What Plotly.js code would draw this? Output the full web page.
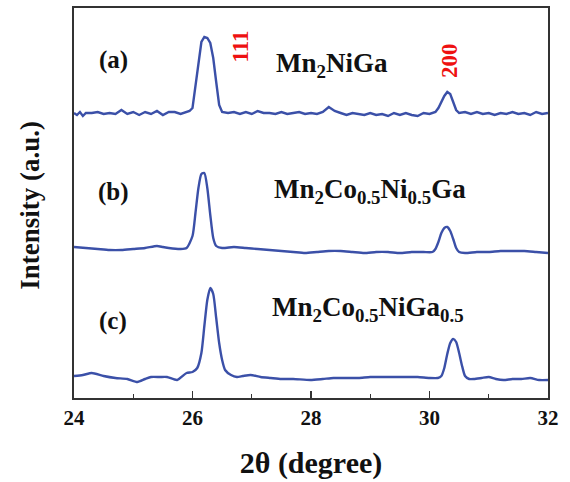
<!DOCTYPE html>
<html>
<head>
<meta charset="utf-8">
<script src="https://cdn.plot.ly/plotly-3.0.1.min.js"></script>
<style>html,body{margin:0;padding:0;background:#fff;}#chart{width:570px;height:482px;}</style>
</head>
<body>
<div id="chart"></div>
<script>
// 2θ (degree) and offset intensities (a.u.)
const xA = [24.0,24.05,24.1,24.15,24.2,24.3,24.4,24.5,24.6,24.7,24.8,24.9,25.0,25.1,25.2,25.3,25.4,25.5,25.6,25.7,25.8,25.9,25.95,26.0,26.05,26.1,26.15,26.2,26.25,26.3,26.35,26.4,26.45,26.5,26.6,26.7,26.8,26.9,27.0,27.1,27.2,27.3,27.4,27.5,27.6,27.7,27.8,27.9,28.0,28.1,28.2,28.3,28.4,28.5,28.6,28.7,28.8,28.9,29.0,29.1,29.2,29.3,29.4,29.5,29.6,29.7,29.8,29.9,30.0,30.1,30.15,30.2,30.25,30.3,30.35,30.4,30.45,30.5,30.6,30.7,30.8,30.9,31.0,31.1,31.2,31.3,31.4,31.5,31.6,31.7,31.8,31.9,32.0];
const yA = [285,283,286,282,285,285,286,284,285,284,288,284,286,283,286,284,287,283,286,286,284,286,287,290,312,338,356,361,360,355,340,316,293,286,285,286,284,286,284,287,285,285,284,286,284,285,286,284,285,284,286,291,287,285,283,285,284,283,285,283,284,282,285,283,285,283,282,285,284,286,290,296,302,306,304,296,288,285,286,284,286,284,285,283,285,284,286,284,285,283,286,284,285];

const xB = [24.0,24.2,24.4,24.6,24.8,25.0,25.2,25.4,25.5,25.6,25.8,25.9,26.0,26.05,26.1,26.15,26.2,26.25,26.3,26.35,26.4,26.5,26.7,26.9,27.1,27.3,27.5,27.7,27.9,28.1,28.3,28.5,28.7,28.9,29.1,29.3,29.5,29.7,29.9,30.05,30.1,30.15,30.2,30.25,30.3,30.35,30.4,30.45,30.5,30.6,30.8,31.0,31.2,31.4,31.6,31.8,32.0];
const yB = [151,150,149,148,148,149,150,152,151,150,149,150,162,185,210,224,225,210,183,160,152,150,151,150,149,148,147,146,145,146,147,147,146,145,146,146,145,146,146,146,149,156,165,170,171,167,159,150,146,145,146,146,147,147,147,146,145];

const xC = [24.0,24.15,24.3,24.5,24.7,24.9,25.07,25.2,25.3,25.45,25.57,25.74,25.9,26.0,26.08,26.15,26.2,26.25,26.3,26.35,26.4,26.45,26.5,26.55,26.65,26.75,26.85,26.98,27.15,27.32,27.5,27.7,27.99,28.2,28.38,28.6,28.8,29.0,29.2,29.4,29.6,29.8,30.0,30.14,30.2,30.25,30.3,30.35,30.4,30.45,30.5,30.55,30.6,30.67,30.75,30.88,31.0,31.12,31.25,31.4,31.55,31.7,31.85,32.0];
const yC = [22,23,25,22,20,19,16,19,21,21,21,18,25,26,30,45,72,98,110,104,80,55,38,28,23,21,22,23,21,20,19,19,18,19,20,20,20,21,21,21,21,21,20,20,22,30,44,55,59,56,45,32,22,19,19,20,21,19,18,19,19,20,18,18];

const tickVals = [24,26,28,30,32];
const tickText = ['24','26','28','30','32'];

const lineColor = '#3b50a8';
const mk = (x, y, shape) => ({x: x, y: y, type: 'scatter', mode: 'lines',
  line: {color: lineColor, width: 2.4, shape: shape, smoothing: 0.6}, hoverinfo: 'skip'});

const data = [mk(xA, yA, 'linear'), mk(xB, yB, 'spline'), mk(xC, yC, 'spline')];

const serif = '"Liberation Serif", "Times New Roman", serif';
const black = {family: serif, size: 25, color: '#111'};
const formula = {family: serif, size: 27, color: '#111'};
const red = {family: serif, size: 23, color: '#ee1111'};

const layout = {
  width: 570, height: 482,
  margin: {l: 74, r: 22, t: 8, b: 84},
  paper_bgcolor: '#fff', plot_bgcolor: '#fff',
  showlegend: false,
  xaxis: {
    range: [24, 32], tickvals: tickVals, ticktext: tickText.map(t => '<b>' + t + '</b>'),
    ticks: 'inside', ticklen: 7, tickwidth: 1.3, tickcolor: '#333',
    minor: {dtick: 1, ticks: 'inside', ticklen: 4, tickwidth: 1.3, tickcolor: '#333'},
    showline: true, linecolor: '#333', linewidth: 1.6, mirror: true,
    showgrid: false, zeroline: false,
    tickfont: {family: serif, size: 21, color: '#111', weight: 700},
    title: {text: '<b>2θ (degree)</b>', font: {family: serif, size: 30, color: '#111'}, standoff: 23}
  },
  yaxis: {
    range: [0, 390],
    showticklabels: false, ticks: '',
    showline: true, linecolor: '#333', linewidth: 1.6, mirror: true,
    showgrid: false, zeroline: false
  },
  annotations: [
    {xref: 'paper', yref: 'paper', x: -0.0928, y: 0.493, xanchor: 'center', yanchor: 'middle',
     text: '<b>Intensity (a.u.)</b>', textangle: -90,
     showarrow: false, font: {family: serif, size: 27, color: '#111'}},
    {x: 24.66, y: 338, text: '<b>(a)</b>', showarrow: false, font: black},
    {x: 24.66, y: 206, text: '<b>(b)</b>', showarrow: false, font: black},
    {x: 24.66, y: 77, text: '<b>(c)</b>', showarrow: false, font: black},
    {x: 28.36, y: 333, text: '<b>Mn<sub>2</sub>NiGa</b>', showarrow: false, font: formula},
    {x: 29.0, y: 207, text: '<b>Mn<sub>2</sub>Co<sub>0.5</sub>Ni<sub>0.5</sub>Ga</b>', showarrow: false, font: formula},
    {x: 28.96, y: 89, text: '<b>Mn<sub>2</sub>Co<sub>0.5</sub>NiGa<sub>0.5</sub></b>', showarrow: false, font: formula},
    {x: 26.81, y: 352, text: '<b>111</b>', textangle: -90, showarrow: false, font: red},
    {x: 30.33, y: 337, text: '<b>200</b>', textangle: -90, showarrow: false, font: red}
  ]
};

Plotly.newPlot('chart', data, layout, {staticPlot: true, displayModeBar: false});
</script>
</body>
</html>
